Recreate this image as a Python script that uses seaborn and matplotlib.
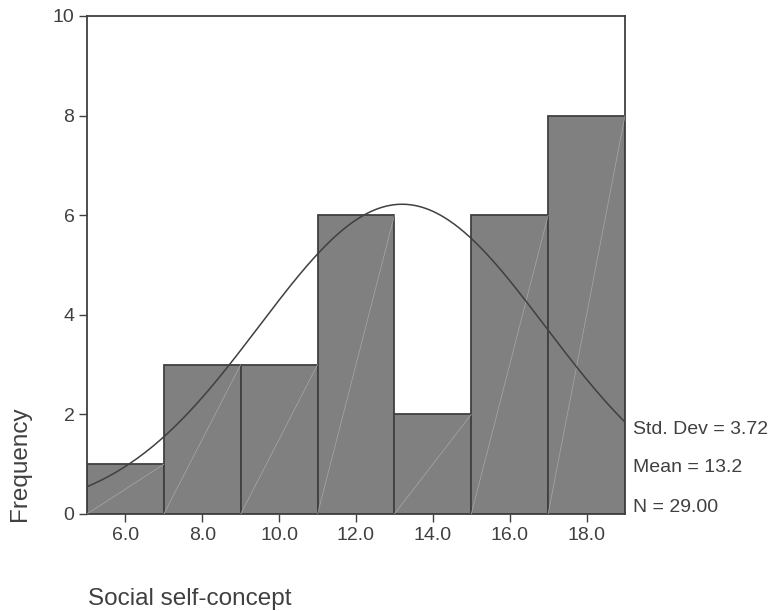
import numpy as np
import pandas as pd
import matplotlib
matplotlib.use("Agg")
import matplotlib.pyplot as plt
import seaborn as sns

bin_centers = [6.0, 8.0, 10.0, 12.0, 14.0, 16.0, 18.0]
frequencies = [1, 3, 3, 6, 2, 6, 8]
xtick_labels = ["6.0", "8.0", "10.0", "12.0", "14.0", "16.0", "18.0"]
yticks = [0, 2, 4, 6, 8, 10]
std_dev = 3.72
mean = 13.2
n = 29
bin_width = 2.0

sns.set_theme(style="white")
plt.rcParams['font.family'] = ['Liberation Sans', 'DejaVu Sans']

txt = "#404040"
fig = plt.figure(figsize=(7.73, 6.11), dpi=100)
ax = fig.add_axes([87/773, 1 - 514/611, (625-87)/773, (514-16)/611])

df = pd.DataFrame({"x": bin_centers, "freq": frequencies})
sns.histplot(data=df, x="x", weights="freq", binwidth=bin_width, binrange=(5, 19),
             color="#808080", alpha=1, edgecolor="#404040", linewidth=1.3, ax=ax)

# faint diagonal artifacts
for c, f in zip(bin_centers, frequencies):
    ax.plot([c - bin_width/2, c + bin_width/2], [0, f], color="#a8a8a8", lw=0.5, zorder=3)

xs = np.linspace(5, 19, 300)
ys = n * bin_width / (std_dev * np.sqrt(2*np.pi)) * np.exp(-0.5*((xs-mean)/std_dev)**2)
sns.lineplot(x=xs, y=ys, color="#404040", lw=1.1, ax=ax, zorder=4)

ax.set_xlim(5, 19)
ax.set_ylim(0, 10)
ax.set_xticks(bin_centers)
ax.set_xticklabels(xtick_labels)
ax.set_yticks(yticks)
ax.set_yticklabels([str(v) for v in yticks])
ax.tick_params(axis="both", direction="out", length=6, width=1, colors="#404040",
               labelcolor=txt, labelsize=14, pad=3, bottom=True, left=True)
for s in ax.spines.values():
    s.set_color("#404040")
    s.set_linewidth(1.3)
    s.set_visible(True)
ax.set_xlabel("")
ax.set_ylabel("")

fig.text(20/773, 1 - 464/611, "Frequency", rotation=90, ha="center", va="center",
         color=txt, fontsize=17.5)
fig.text(88/773, 1 - 599/611, "Social self-concept", ha="left", va="center",
         color=txt, fontsize=17.5)
for yy, s in [(429, f"Std. Dev = {std_dev:.2f}"), (468, f"Mean = {mean:.1f}"), (507, f"N = {n:.2f}")]:
    fig.text(633/773, 1 - yy/611, s, ha="left", va="center", color=txt, fontsize=14)

fig.savefig("out.png", dpi=100)
